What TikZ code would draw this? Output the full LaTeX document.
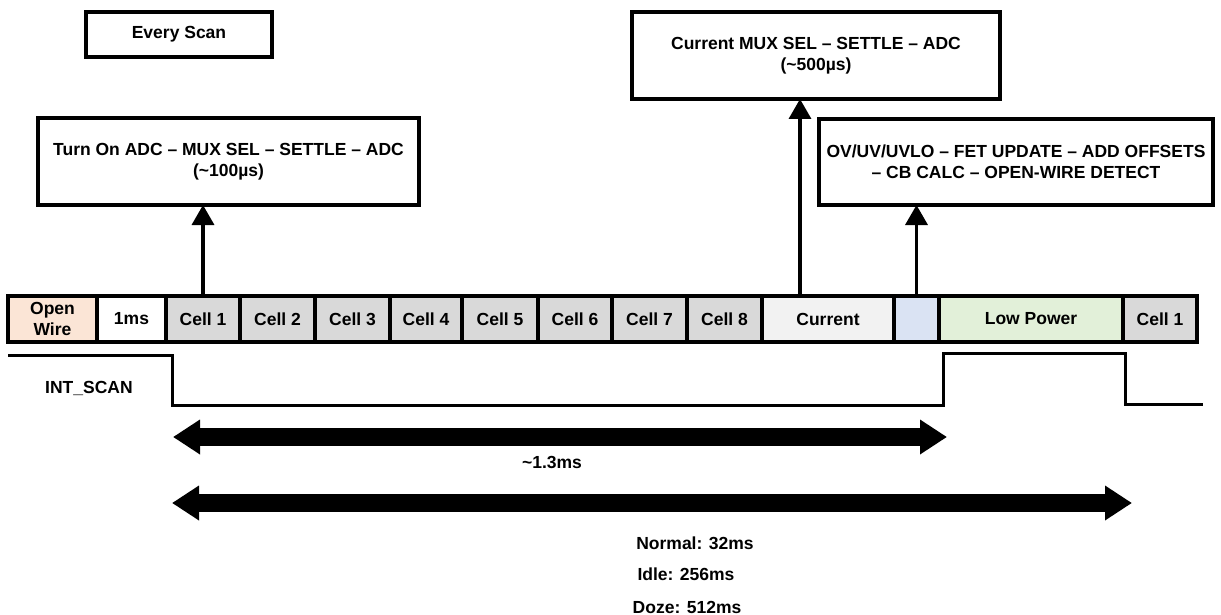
\documentclass[tikz,border=0pt]{standalone}
\usepackage{fontspec}
\setmainfont{Liberation Sans}
\usetikzlibrary{arrows.meta,calc}
\definecolor{owfill}{HTML}{FBE5D6}
\definecolor{cellfill}{HTML}{D9D9D9}
\definecolor{curfill}{HTML}{F2F2F2}
\definecolor{bluefill}{HTML}{DAE3F3}
\definecolor{lpfill}{HTML}{E2F0D9}
\begin{document}
\begin{tikzpicture}[x=1pt,y=-1pt,
 every node/.style={font=\fontsize{17.5}{21}\selectfont\bfseries, inner sep=0pt, outer sep=0pt, align=center},
 seg/.style={draw, line width=3.5pt, minimum height=46pt},
 infobox/.style={draw, line width=4pt},
 uparrow/.style={line width=3.5pt, -{Triangle[width=22pt,length=20pt]}},
 spanarrow/.style={line width=18pt, {Triangle[width=33pt,length=27pt]}-{Triangle[width=33pt,length=27pt]}},
 wave/.style={line width=3pt}]
\useasboundingbox (0,0) rectangle (1221,615);
% top boxes
\node[infobox, minimum width=186pt, minimum height=45pt] (every) at (179,34.5) {Every Scan};
\node[infobox, minimum width=381pt, minimum height=87pt] (turn) at (228.5,161.5) {Turn On ADC – MUX SEL – SETTLE – ADC\\(\textasciitilde100µs)};
\node[infobox, minimum width=368pt, minimum height=87pt] (curmux) at (816,55.5) {Current MUX SEL – SETTLE – ADC\\(\textasciitilde500µs)};
\node[infobox, minimum width=394pt, minimum height=86pt] (ov) at (1016,162) {OV/UV/UVLO – FET UPDATE – ADD OFFSETS\\– CB CALC – OPEN-WIRE DETECT};
% strip
\node[seg, fill=owfill, minimum width=89pt] (ow) at (52.5,319) {Open\\Wire};
\node[seg, fill=white, minimum width=69pt] (ms) at (131.5,319) {1ms};
\node[seg, fill=cellfill, minimum width=74pt] (c1) at (203,319) {Cell 1};
\node[seg, fill=cellfill, minimum width=75pt] (c2) at (277.5,319) {Cell 2};
\node[seg, fill=cellfill, minimum width=75pt] (c3) at (352.5,319) {Cell 3};
\node[seg, fill=cellfill, minimum width=72pt] (c4) at (426,319) {Cell 4};
\node[seg, fill=cellfill, minimum width=76pt] (c5) at (500,319) {Cell 5};
\node[seg, fill=cellfill, minimum width=74pt] (c6) at (575,319) {Cell 6};
\node[seg, fill=cellfill, minimum width=75pt] (c7) at (649.5,319) {Cell 7};
\node[seg, fill=cellfill, minimum width=75pt] (c8) at (724.5,319) {Cell 8};
\node[seg, fill=curfill, minimum width=132pt] (cur) at (828,319) {Current};
\node[seg, fill=bluefill, minimum width=45pt] (blue) at (916.5,319) {};
\node[seg, fill=lpfill, minimum width=184pt] (lp) at (1031,319) {Low Power};
\node[seg, fill=cellfill, minimum width=74pt] (c1b) at (1160,319) {Cell 1};
% up arrows
\draw[uparrow] (c1.north) -- (c1.north |- turn.south);
\draw[uparrow] ([xshift=-28pt]cur.north) -- ([xshift=-28pt]cur.north |- curmux.south);
\draw[uparrow] (blue.north) -- (blue.north |- ov.south);
% waveform
\node (intscan) at (89,388) {INT\_SCAN};
\coordinate (w0) at (8,355);
\coordinate (w1) at (172,355);
\coordinate (w2) at (172,405);
\coordinate (w3) at (943,405);
\coordinate (w4) at (943,353);
\coordinate (w5) at (1125,353);
\coordinate (w6) at (1125,404);
\coordinate (w7) at (1203,404);
\draw[wave] (w0) -- (w1) -- (w2) -- (w3) -- (w4) -- (w5) -- (w6) -- (w7);
% span arrows
\coordinate (s1a) at (173,437);
\coordinate (s1b) at (947,437);
\coordinate (s2a) at (172,503);
\coordinate (s2b) at (1132,503);
\draw[spanarrow] (s1a) -- (s1b);
\draw[spanarrow] (s2a) -- (s2b);
\node (t13) at (552,462) {\textasciitilde1.3ms};
\node (tn) at (695,543) {Normal: 32ms};
\node (ti) at (686,574) {Idle: 256ms};
\node (td) at (687,607) {Doze: 512ms};
\end{tikzpicture}
\end{document}
